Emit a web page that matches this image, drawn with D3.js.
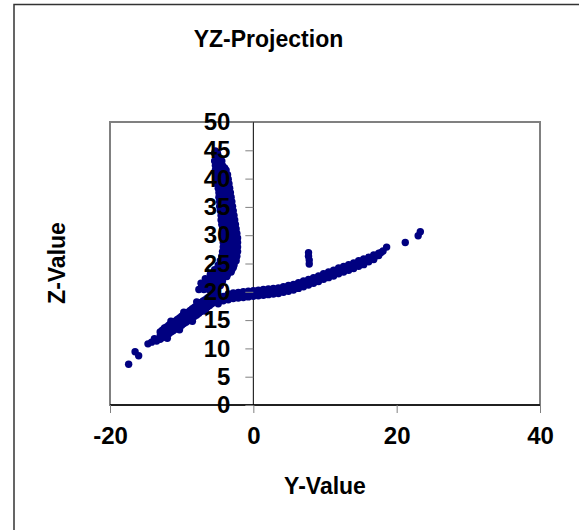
<!DOCTYPE html>
<html>
<head>
<meta charset="utf-8">
<script src="https://cdn.jsdelivr.net/npm/d3@7"></script>
<style>
  html, body { margin: 0; padding: 0; background: #fff; }
  svg text { font-family: "Liberation Sans", Arial, sans-serif; font-weight: bold; fill: #000; }
</style>
</head>
<body>
<svg id="chart" width="579" height="530"></svg>
<script>
// ---------- data (Y-Value, Z-Value) ----------
const xTicks = [-20, 0, 20, 40];
const yTicks = [0, 5, 10, 15, 20, 25, 30, 35, 40, 45, 50];

const leftTail = [
  [-17.4, 7.2], [-16.5, 9.4], [-16.0, 8.7], [-14.7, 10.8], [-14.2, 11.1],
  [-13.8, 11.7], [-13.5, 11.3]
];

const leftBand = [
  [-13.0, 12.9], [-13.0, 12.2], [-13.0, 11.6],
  [-12.4, 13.6], [-12.4, 12.9], [-12.4, 12.1],
  [-11.8, 14.1], [-11.8, 13.4], [-11.8, 12.6],
  [-11.2, 14.6], [-11.2, 13.9], [-11.2, 13.1],
  [-10.6, 15.1], [-10.6, 14.4], [-10.6, 13.6],
  [-10.0, 15.7], [-10.0, 14.9], [-10.0, 14.1],
  [-9.4, 16.2], [-9.4, 15.4], [-9.4, 14.6],
  [-8.8, 16.7], [-8.8, 15.9], [-8.8, 15.1],
  [-8.2, 17.3], [-8.2, 16.5], [-8.2, 15.7],
  [-7.6, 17.8], [-7.6, 17.0], [-7.6, 16.2],
  [-7.0, 18.4], [-7.0, 17.6], [-7.0, 16.8],
  [-6.4, 18.9], [-6.4, 18.1], [-6.4, 17.3],
  [-5.8, 19.5], [-5.8, 18.7], [-5.8, 17.9],
  [-5.2, 20.1], [-5.2, 19.3], [-5.2, 18.5],
  [-12.0, 11.8], [-10.3, 13.3], [-8.5, 14.8], [-6.7, 16.6],
  [-11.5, 14.8], [-9.7, 16.4], [-7.9, 18.2]
];

const leftBandFill = [
  [-12.7, 13.2], [-12.7, 12.5], [-12.7, 11.9],
  [-12.1, 13.8], [-12.1, 13.1], [-12.1, 12.4],
  [-11.5, 14.3], [-11.5, 13.6], [-11.5, 12.9],
  [-10.9, 14.8], [-10.9, 14.1], [-10.9, 13.4],
  [-10.3, 15.4], [-10.3, 14.6], [-10.3, 13.9],
  [-9.7, 15.9], [-9.7, 15.1], [-9.7, 14.4],
  [-9.1, 16.4], [-9.1, 15.6], [-9.1, 14.9],
  [-8.5, 17.0], [-8.5, 16.2], [-8.5, 15.4],
  [-7.9, 17.5], [-7.9, 16.7], [-7.9, 15.9],
  [-7.3, 18.1], [-7.3, 17.3], [-7.3, 16.5],
  [-6.7, 18.6], [-6.7, 17.8], [-6.7, 17.0],
  [-6.1, 19.2], [-6.1, 18.4], [-6.1, 17.6],
  [-5.5, 19.8], [-5.5, 19.0], [-5.5, 18.2]
];

const arc = [
  [-5.3, 44.9], [-5.2, 44.2],
  [-5.1, 43.5], [-4.7, 43.5],
  [-5.0, 42.7], [-4.5, 42.7],
  [-4.9, 41.9], [-4.4, 41.9], [-4.0, 41.9],
  [-4.9, 41.1], [-4.4, 41.1], [-3.9, 41.1],
  [-4.8, 40.3], [-4.3, 40.3], [-3.8, 40.3],
  [-4.7, 39.5], [-4.2, 39.5], [-3.7, 39.5],
  [-4.6, 38.7], [-4.1, 38.7], [-3.6, 38.7],
  [-4.5, 37.9], [-4.0, 37.9], [-3.6, 37.9],
  [-4.4, 37.1], [-3.9, 37.1], [-3.4, 37.1],
  [-4.4, 36.3], [-3.8, 36.3], [-3.3, 36.3],
  [-4.3, 35.5], [-3.8, 35.5], [-3.3, 35.5],
  [-4.3, 34.7], [-3.7, 34.7], [-3.2, 34.7],
  [-4.2, 33.9], [-3.6, 33.9], [-3.1, 33.9],
  [-4.1, 33.1], [-3.5, 33.1], [-3.0, 33.1],
  [-4.1, 32.3], [-3.5, 32.3], [-2.9, 32.3],
  [-4.0, 31.5], [-3.4, 31.5], [-2.8, 31.5],
  [-3.9, 30.7], [-3.3, 30.7], [-2.7, 30.7],
  [-3.9, 29.9], [-3.3, 29.9], [-2.6, 29.9],
  [-3.8, 29.1], [-3.2, 29.1], [-2.5, 29.1],
  [-3.8, 28.3], [-3.2, 28.3], [-2.5, 28.3],
  [-3.8, 27.5], [-3.2, 27.5], [-2.4, 27.5],
  [-3.9, 26.7], [-3.2, 26.7], [-2.4, 26.7],
  [-4.0, 25.9], [-3.3, 25.9], [-2.5, 25.9],
  [-4.2, 25.1], [-3.5, 25.1], [-2.7, 25.1],
  [-4.6, 24.3], [-3.9, 24.3], [-3.2, 24.3], [-2.8, 24.3],
  [-5.1, 23.5], [-4.4, 23.5], [-3.7, 23.5], [-3.1, 23.5],
  [-5.8, 22.7], [-5.1, 22.7], [-4.4, 22.7], [-3.7, 22.7],
  [-6.5, 21.9], [-5.8, 21.9], [-5.1, 21.9], [-4.3, 21.9],
  [-7.2, 21.1], [-6.5, 21.1], [-5.8, 21.1], [-5.1, 21.1], [-4.6, 21.1],
  [-7.6, 20.4], [-6.9, 20.4], [-6.2, 20.4], [-5.5, 20.4]
];

const arcFill = [
  [-5.4, 44.5], [-5.0, 44.5],
  [-5.4, 43.1], [-4.9, 43.1], [-4.4, 43.1],
  [-5.3, 42.3], [-4.8, 42.3], [-4.3, 42.3],
  [-5.3, 41.5], [-4.7, 41.5], [-4.2, 41.5], [-3.8, 41.5],
  [-5.2, 40.7], [-4.6, 40.7], [-4.0, 40.7], [-3.6, 40.7],
  [-5.1, 39.9], [-4.5, 39.9], [-3.9, 39.9], [-3.5, 39.9],
  [-5.0, 39.1], [-4.4, 39.1], [-3.8, 39.1], [-3.4, 39.1],
  [-4.9, 38.3], [-4.3, 38.3], [-3.8, 38.3], [-3.3, 38.3],
  [-4.8, 37.5], [-4.2, 37.5], [-3.6, 37.5], [-3.2, 37.5],
  [-4.8, 36.7], [-4.1, 36.7], [-3.5, 36.7], [-3.1, 36.7],
  [-4.7, 35.9], [-4.0, 35.9], [-3.5, 35.9], [-3.0, 35.9],
  [-4.7, 35.1], [-4.0, 35.1], [-3.4, 35.1], [-2.9, 35.1],
  [-4.6, 34.3], [-3.9, 34.3], [-3.3, 34.3], [-2.8, 34.3],
  [-4.5, 33.5], [-3.8, 33.5], [-3.2, 33.5], [-2.7, 33.5],
  [-4.5, 32.7], [-3.8, 32.7], [-3.1, 32.7], [-2.6, 32.7],
  [-4.4, 31.9], [-3.7, 31.9], [-3.0, 31.9], [-2.5, 31.9],
  [-4.3, 31.1], [-3.6, 31.1], [-2.9, 31.1], [-2.4, 31.1],
  [-4.3, 30.3], [-3.6, 30.3], [-2.9, 30.3], [-2.3, 30.3],
  [-4.2, 29.5], [-3.5, 29.5], [-2.8, 29.5], [-2.2, 29.5],
  [-4.2, 28.7], [-3.5, 28.7], [-2.8, 28.7], [-2.2, 28.7],
  [-4.2, 27.9], [-3.5, 27.9], [-2.8, 27.9], [-2.2, 27.9],
  [-4.3, 27.1], [-3.6, 27.1], [-2.8, 27.1], [-2.2, 27.1],
  [-4.4, 26.3], [-3.7, 26.3], [-2.9, 26.3], [-2.3, 26.3],
  [-4.6, 25.5], [-3.8, 25.5], [-3.1, 25.5], [-2.4, 25.5],
  [-4.9, 24.7], [-4.2, 24.7], [-3.5, 24.7], [-2.7, 24.7],
  [-5.4, 23.9], [-4.6, 23.9], [-3.8, 23.9], [-3.0, 23.9],
  [-6.0, 23.1], [-5.2, 23.1], [-4.4, 23.1], [-3.6, 23.1],
  [-6.7, 22.3], [-5.9, 22.3], [-5.1, 22.3], [-4.3, 22.3],
  [-7.3, 21.5], [-6.6, 21.5], [-5.8, 21.5], [-5.0, 21.5]
];

const rightBranch = [
  [-4.9, 18.3], [-4.9, 17.9],
  [-4.2, 19.2], [-4.2, 18.4],
  [-3.5, 19.6], [-3.5, 18.6],
  [-2.8, 19.8], [-2.8, 18.8],
  [-2.1, 19.9], [-2.1, 18.9],
  [-1.4, 20.0], [-1.4, 19.0],
  [-0.7, 20.1], [-0.7, 19.1],
  [0.0, 20.2], [0.0, 19.2],
  [0.7, 20.3], [0.7, 19.3],
  [1.4, 20.4], [1.4, 19.4],
  [2.1, 20.5], [2.1, 19.5],
  [2.8, 20.6], [2.8, 19.6],
  [3.5, 20.7], [3.5, 19.7],
  [4.2, 20.9], [4.2, 19.9],
  [4.9, 21.1], [4.9, 20.1],
  [5.6, 21.3], [5.6, 20.3],
  [6.3, 21.6], [6.3, 20.6],
  [7.0, 21.9], [7.0, 20.9],
  [7.7, 22.2], [7.7, 21.2],
  [8.4, 22.5], [8.4, 21.5],
  [9.1, 22.8], [9.1, 21.8],
  [9.8, 23.2], [9.8, 22.2],
  [10.5, 23.5], [10.5, 22.5],
  [11.2, 23.8], [11.2, 22.8],
  [11.9, 24.2], [11.9, 23.2],
  [12.6, 24.5], [12.6, 23.5],
  [13.3, 24.8], [13.3, 23.8],
  [14.0, 25.1], [14.0, 24.1],
  [14.7, 25.5], [14.7, 24.5],
  [15.4, 25.8], [15.4, 24.8],
  [16.1, 26.1], [16.1, 25.3],
  [16.8, 26.5], [16.8, 25.7],
  [17.5, 26.8], [17.5, 26.4],
  [18.1, 27.2], [18.6, 27.9]
];

const rightBranchMid = [
  [-4.5, 18.5], [-3.85, 19.0], [-3.15, 19.2], [-2.45, 19.35], [-1.75, 19.45],
  [-1.05, 19.55], [-0.35, 19.65], [0.35, 19.75], [1.05, 19.85], [1.75, 19.95],
  [2.45, 20.05], [3.15, 20.15], [3.85, 20.3], [4.55, 20.5], [5.25, 20.7],
  [5.95, 20.95], [6.65, 21.25], [7.35, 21.55], [8.05, 21.85], [8.75, 22.15],
  [9.45, 22.5], [10.15, 22.85], [10.85, 23.15], [11.55, 23.5], [12.25, 23.85],
  [12.95, 24.15], [13.65, 24.45], [14.35, 24.8], [15.05, 25.15], [15.75, 25.5],
  [16.45, 25.9], [17.15, 26.35], [17.8, 26.9]
];

const outliers = [
  [21.2, 28.7], [23.0, 29.9], [23.3, 30.6],
  [7.8, 24.9], [7.8, 25.6], [7.7, 26.3], [7.7, 26.9]
];

// ---------- drawing ----------
const svg = d3.select("#chart");
const x = d3.scaleLinear().domain([-20, 40]).range([110, 540]);
const y = d3.scaleLinear().domain([0, 50]).range([405, 122]);

// outer chart border (only left/top visible)
svg.append("rect")
  .attr("x", 14).attr("y", 4.5).attr("width", 700).attr("height", 700)
  .attr("fill", "none").attr("stroke", "#333").attr("stroke-width", 1.5);

// title
svg.append("text").attr("x", 268.5).attr("y", 47)
  .attr("text-anchor", "middle").style("font-size", "23px").text("YZ-Projection");

// plot area border
svg.append("rect")
  .attr("x", x(-20)).attr("y", y(50))
  .attr("width", x(40) - x(-20)).attr("height", y(0) - y(50))
  .attr("fill", "none").attr("stroke", "#808080").attr("stroke-width", 2);

// axis lines (under points)
svg.append("line").attr("x1", x(-20)).attr("x2", x(40)).attr("y1", y(0)).attr("y2", y(0))
  .attr("stroke", "#000").attr("stroke-width", 1.5);
svg.append("line").attr("x1", x(0)).attr("x2", x(0)).attr("y1", y(0)).attr("y2", y(50))
  .attr("stroke", "#000").attr("stroke-width", 1);

// points
const allPts = [].concat(leftTail, leftBand, leftBandFill, arc, arcFill, rightBranch, rightBranchMid, outliers);
svg.append("g").selectAll("circle").data(allPts).join("circle")
  .attr("cx", d => x(d[0])).attr("cy", d => y(d[1])).attr("r", 3.7)
  .attr("fill", "#000080");

// axes (ticks + labels on top)
const gx = svg.append("g").attr("transform", `translate(0,${y(0)})`)
  .call(d3.axisBottom(x).tickValues(xTicks).tickSize(8).tickPadding(14).tickFormat(d3.format("d")));
const gy = svg.append("g").attr("transform", `translate(${x(0)},0)`)
  .call(d3.axisLeft(y).tickValues(yTicks).tickSize(8).tickPadding(15).tickFormat(d3.format("d")));
[gx, gy].forEach(g => {
  g.select(".domain").remove();
  g.selectAll(".tick line").attr("stroke", "#808080").attr("stroke-width", 1);
  g.selectAll(".tick text").style("font-size", "24px")
    .style("font-family", '"Liberation Sans", Arial, sans-serif')
    .style("font-weight", "bold").attr("fill", "#000");
});
gx.selectAll(".tick text").text(d => d < 0 ? "-" + Math.abs(d) : d);

// axis titles
svg.append("text").attr("x", 325).attr("y", 494)
  .attr("text-anchor", "middle").style("font-size", "23px").text("Y-Value");
svg.append("text").attr("transform", "translate(65,263) rotate(-90)")
  .attr("text-anchor", "middle").style("font-size", "23px").text("Z-Value");
</script>
</body>
</html>
